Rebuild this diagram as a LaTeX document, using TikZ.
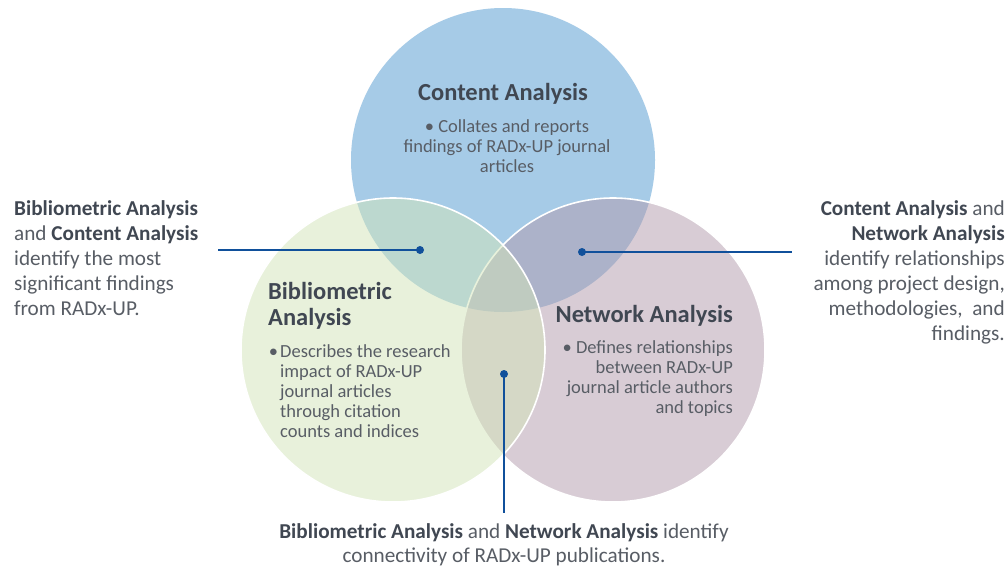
\documentclass[tikz,border=0pt]{standalone}
\usepackage{fontspec}
\setmainfont{Carlito}
\definecolor{cablue}{RGB}{166,203,231}
\definecolor{napurple}{RGB}{179,155,173}
\definecolor{bagreen}{RGB}{211,229,185}
\definecolor{headcol}{RGB}{64,71,82}
\definecolor{bodycol}{RGB}{88,93,101}
\definecolor{linkcol}{RGB}{16,80,155}
\newcommand{\setname}[1]{\textcolor{headcol}{\textbf{#1}}}
\begin{document}
\begin{tikzpicture}[x=1pt,y=-1pt,
  setfill/.style={fill opacity=0.5, draw=white, line width=1.6pt},
  head/.style={inner sep=0pt, text=headcol, font=\fontsize{24.5}{26}\selectfont\bfseries},
  body/.style={inner sep=0pt, text=bodycol, font=\fontsize{18.5}{20}\selectfont},
  label/.style={inner sep=0pt, text=bodycol, font=\fontsize{21.2}{25}\selectfont},
  link/.style={draw=linkcol, line width=1.3pt},
  dot/.style={fill=linkcol}]
\useasboundingbox (0,0) rectangle (1008,571);
\fill[white] (0,0) rectangle (1008,571);

% three overlapping sets
\fill[cablue] (503,160) circle[radius=152pt];
\path[setfill, fill=napurple] (613,350) circle[radius=152pt];
\path[setfill, fill=bagreen] (393,350) circle[radius=152pt];

% set titles and descriptions (base anchor = last line's baseline)
\node[head, anchor=base] (cahead) at (503,100) {Content Analysis};
\node[body, anchor=base, align=center] (cabody) at (507,172)
  {• Collates and reports\\findings of RADx-UP journal\\articles};

\node[head, anchor=base west, align=left] (bahead) at (268,325)
  {Bibliometric\\Analysis};
\node[body, anchor=base west, align=left] (babody) at (280,437)
  {\llap{•\hspace{2pt}}Describes the research\\impact of RADx-UP\\journal articles\\through citation\\counts and indices};

\node[head, anchor=base east] (nahead) at (733,322) {Network Analysis};
\node[body, anchor=base east, align=right] (nabody) at (733,413)
  {• Defines relationships\\between RADx-UP\\journal article authors\\and topics};

% pairwise callouts
\node[label, anchor=base west, align=left] (bclabel) at (14,315)
  {\setname{Bibliometric Analysis}\\and \setname{Content Analysis}\\identify the most\\significant findings\\from RADx-UP.};
\node[label, anchor=base east, align=right] (cnlabel) at (1005,340)
  {\setname{Content Analysis} and\\\setname{Network Analysis}\\identify relationships\\among project design,\\methodologies,\ \ and\\findings.};
\node[label, anchor=base, align=center, font=\fontsize{21.2}{24}\selectfont] (bnlabel) at (504,562)
  {\setname{Bibliometric Analysis} and \setname{Network Analysis} identify\\connectivity of RADx-UP publications.};

% connectors from overlap regions
\coordinate (bcdot) at (420,250);
\coordinate (bcend) at (218,250);
\coordinate (cndot) at (582,252);
\coordinate (cnend) at (792,252);
\coordinate (bndot) at (504,374);
\coordinate (bnend) at (504,513);
\draw[link] (bcdot) -- (bcend);
\draw[link] (cndot) -- (cnend);
\draw[link] (bndot) -- (bnend);
\fill[dot] (bcdot) circle[radius=4pt];
\fill[dot] (cndot) circle[radius=4pt];
\fill[dot] (bndot) circle[radius=4pt];
\end{tikzpicture}
\end{document}
